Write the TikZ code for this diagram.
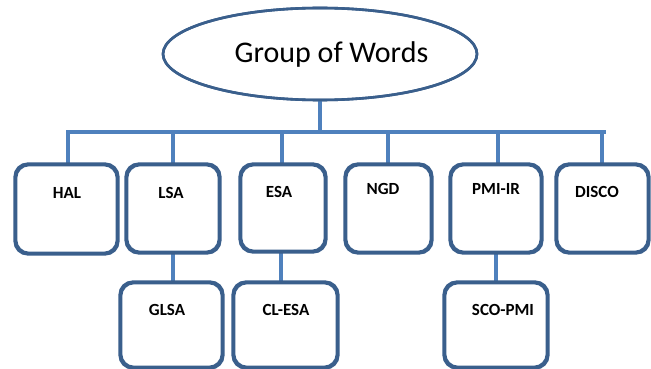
\documentclass[tikz,border=0pt]{standalone}
\usepackage{fontspec}
\setmainfont{Carlito}
\usetikzlibrary{shapes.geometric}
\definecolor{bordc}{HTML}{3A5F8C}
\definecolor{connc}{HTML}{4F81BD}
\tikzset{
  box/.style={draw=bordc, line width=2.6pt, rounded corners=13pt, fill=white, inner sep=0pt},
  lab/.style={font=\bfseries\fontsize{17}{19}\selectfont, text=black, inner sep=0pt},
  conn/.style={draw=connc, line width=4.5pt},
}
\begin{document}
\begin{tikzpicture}[x=1pt,y=-1pt]
\useasboundingbox (0,0) rectangle (651,369);
\fill[white] (0,0) rectangle (651,369);
\node[ellipse, draw=bordc, line width=2.6pt, minimum width=314pt, minimum height=92pt, inner sep=0pt] (root) at (320,54) {};
\node[font=\fontsize{30}{34}\selectfont, inner sep=0pt] (title) at (331.5,55) {Group of Words};
\coordinate (busL) at (68,132);
\coordinate (busR) at (604,132);
\coordinate (busM) at (320,132);
\coordinate (sHAL) at (68,132);
\coordinate (sLSA) at (173,132);
\coordinate (sESA) at (282,132);
\coordinate (sNGD) at (388,132);
\coordinate (sPMI) at (498,132);
\coordinate (sDISCO) at (602,132);
% boxes
\node[box, minimum width=101pt, minimum height=88pt] (HAL) at (66.5,209) {};
\node[box, minimum width=92pt, minimum height=87pt] (LSA) at (173,208.5) {};
\node[box, minimum width=84pt, minimum height=86pt] (ESA) at (283,208) {};
\node[box, minimum width=85pt, minimum height=87pt] (NGD) at (388.5,208.5) {};
\node[box, minimum width=90pt, minimum height=87pt] (PMI) at (496,208.5) {};
\node[box, minimum width=91pt, minimum height=87pt] (DISCO) at (602.5,208.5) {};
\node[box, minimum width=101pt, minimum height=84pt] (GLSA) at (171.5,325) {};
\node[box, minimum width=103pt, minimum height=84pt] (CLESA) at (285.5,325) {};
\node[box, minimum width=102pt, minimum height=84pt] (SCO) at (496,325) {};
% connectors
\draw[conn] (root.south) -- (busM);
\draw[conn, line cap=rect] (busL) -- (busR);
\draw[conn] (sHAL) -- (sHAL |- HAL.north);
\draw[conn] (sLSA) -- (sLSA |- LSA.north);
\draw[conn] (sESA) -- (sESA |- ESA.north);
\draw[conn] (sNGD) -- (sNGD |- NGD.north);
\draw[conn] (sPMI) -- (sPMI |- PMI.north);
\draw[conn] (sDISCO) -- (sDISCO |- DISCO.north);
\draw[conn] (LSA.south) -- (LSA.south |- GLSA.north);
\draw[conn] ([xshift=-2pt]ESA.south) -- ([xshift=-2pt]ESA.south |- CLESA.north);
\draw[conn] (PMI.south) -- (PMI.south |- SCO.north);
% box borders over connector ends
\foreach \n in {HAL,LSA,ESA,NGD,PMI,DISCO,GLSA,CLESA,SCO}{
  \draw[draw=bordc, line width=2.6pt, rounded corners=13pt] (\n.north west) rectangle (\n.south east);
}
\draw[draw=bordc, line width=2.6pt] (root.center) ellipse [x radius=157pt, y radius=46pt];
% labels
\node[lab] (tHAL) at (67,193) {HAL};
\node[lab] (tLSA) at (171,193) {LSA};
\node[lab] (tESA) at (279,192) {ESA};
\node[lab] (tNGD) at (383,189) {NGD};
\node[lab] (tPMI) at (496,189) {PMI-IR};
\node[lab] (tDISCO) at (597,192) {DISCO};
\node[lab] (tGLSA) at (167,310) {GLSA};
\node[lab] (tCLESA) at (286,310) {CL-ESA};
\node[lab] (tSCO) at (503,310) {SCO-PMI};
\end{tikzpicture}
\end{document}
